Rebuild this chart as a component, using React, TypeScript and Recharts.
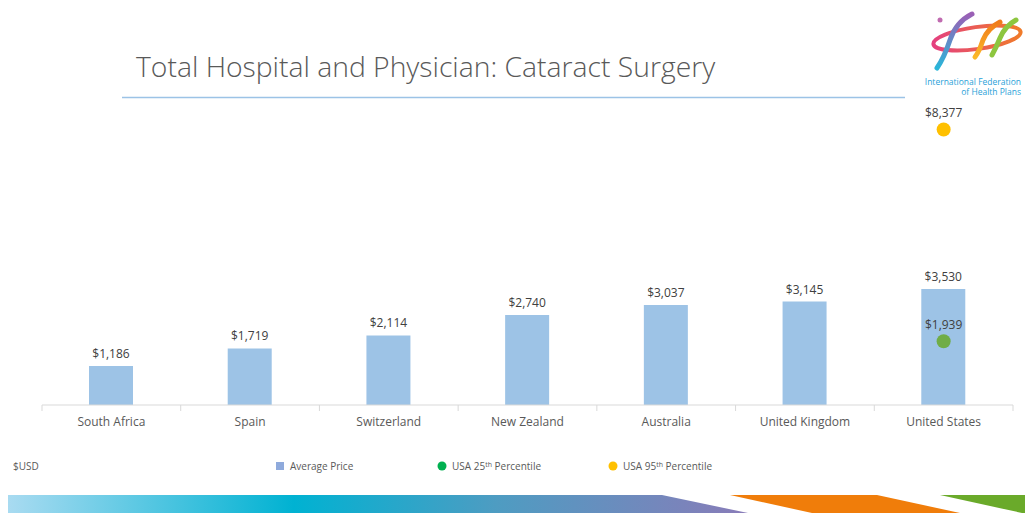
import { Bar, ComposedChart, LabelList, Line, XAxis, YAxis } from "recharts";

const categories = [
  "South Africa",
  "Spain",
  "Switzerland",
  "New Zealand",
  "Australia",
  "United Kingdom",
  "United States",
];
const averagePrice = [1186, 1719, 2114, 2740, 3037, 3145, 3530];
const usa25th = [null, null, null, null, null, null, 1939];
const usa95th = [null, null, null, null, null, null, 8377];

const data = categories.map((name, i) => ({
  name,
  avg: averagePrice[i],
  p25: usa25th[i],
  p95: usa95th[i],
}));

const W = 1025;
const H = 513;
const margin = { top: 109, right: 12, left: 42, bottom: 78 };
const band = (W - margin.left - margin.right) / categories.length;
const font = "'Open Sans', sans-serif";

const money = (v: unknown) =>
  v == null || v === "" ? "" : "$" + Number(v).toLocaleString("en-US");

function CategoryTick(props: any) {
  const { x, y, payload, index } = props;
  const last = index === categories.length - 1;
  return (
    <g>
      <line x1={x - band / 2} x2={x - band / 2} y1={y - 8} y2={y - 2} stroke="#d9d9d9" />
      {last && <line x1={x + band / 2} x2={x + band / 2} y1={y - 8} y2={y - 2} stroke="#d9d9d9" />}
      <text x={x} y={y + 13} textAnchor="middle" fontSize={12} fill="#595959" fontFamily={font}>
        {payload.value}
      </text>
    </g>
  );
}

const makeDot = (color: string) => (props: any) => {
  const { cx, cy, value, index } = props;
  if (value == null || cy == null) return <g key={"d" + index} />;
  return <circle key={"d" + index} cx={cx} cy={cy} r={7} fill={color} />;
};

function Logo() {
  return (
    <g>
      <defs>
        <linearGradient id="ring" x1="0" y1="0" x2="1" y2="0">
          <stop offset="0%" stopColor="#e4407f" />
          <stop offset="100%" stopColor="#f07b2a" />
        </linearGradient>
        <linearGradient id="rib1" x1="0" y1="0" x2="0" y2="1">
          <stop offset="0%" stopColor="#9b5fb5" />
          <stop offset="100%" stopColor="#29b6d9" />
        </linearGradient>
        <linearGradient id="rib2" x1="0" y1="0" x2="0" y2="1">
          <stop offset="0%" stopColor="#f07b1a" />
          <stop offset="100%" stopColor="#fbb829" />
        </linearGradient>
      </defs>
      <ellipse cx={977} cy={38} rx={44} ry={11} transform="rotate(-8 977 38)" fill="none" stroke="url(#ring)" strokeWidth={4} />
      <path d="M972 14 Q956 22 950 40 Q944 58 937 68" stroke="url(#rib1)" strokeWidth={5} fill="none" strokeLinecap="round" />
      <path d="M1000 22 Q988 28 983 40 Q979 52 975 57" stroke="url(#rib2)" strokeWidth={5} fill="none" strokeLinecap="round" />
      <path d="M1016 20 Q1005 26 1000 38 Q996 48 992 55" stroke="#8dc63f" strokeWidth={5} fill="none" strokeLinecap="round" />
      <circle cx={940} cy={20} r={2.5} fill="#c06bb0" />
      <text x={1021} y={85} textAnchor="end" fontSize={8.5} fill="#2a9fd8" fontFamily={font}>
        International Federation
      </text>
      <text x={1021} y={95} textAnchor="end" fontSize={8.5} fill="#2a9fd8" fontFamily={font}>
        of Health Plans
      </text>
    </g>
  );
}

function Banner() {
  return (
    <g>
      <defs>
        <linearGradient id="band" x1="8" y1="0" x2="760" y2="0" gradientUnits="userSpaceOnUse">
          <stop offset="0%" stopColor="#a9dbf1" />
          <stop offset="38%" stopColor="#00b2d2" />
          <stop offset="65%" stopColor="#4e9cc2" />
          <stop offset="100%" stopColor="#8c7ab8" />
        </linearGradient>
      </defs>
      <polygon points="8,495 662,495 748,513 8,513" fill="url(#band)" />
      <polygon points="730,495 877,495 960,513 812,513" fill="#f07d0a" />
      <polygon points="940,495 1025,495 1025,513 1022,513" fill="#6aaa2a" />
    </g>
  );
}

function Legend() {
  return (
    <g fontFamily={font} fontSize={10} fill="#595959">
      <text x={13} y={470}>$USD</text>
      <rect x={276} y={462} width={8} height={8} fill="#8faadc" />
      <text x={290} y={470}>Average Price</text>
      <circle cx={442} cy={466} r={4.5} fill="#00b050" />
      <text x={452} y={470}>
        USA 25<tspan fontSize={7} dy={-3}>th</tspan>
        <tspan dy={3}> Percentile</tspan>
      </text>
      <circle cx={613} cy={466} r={4.5} fill="#ffc000" />
      <text x={623} y={470}>
        USA 95<tspan fontSize={7} dy={-3}>th</tspan>
        <tspan dy={3}> Percentile</tspan>
      </text>
    </g>
  );
}

export default function App() {
  return (
    <div style={{ position: "absolute", left: 0, top: 0, width: W, height: H, background: "#fff" }}>
      <svg width={W} height={H} style={{ position: "absolute", left: 0, top: 0 }}>
        <text x={136} y={77} fontSize={28.3} fontWeight={300} fill="#595959" fontFamily={font}>
          Total Hospital and Physician: Cataract Surgery
        </text>
        <line x1={122} x2={905} y1={97.5} y2={97.5} stroke="#9cc3e6" strokeWidth={1.5} />
        <Logo />
        <Legend />
        <Banner />
      </svg>
      <div style={{ position: "absolute", left: 0, top: 0 }}>
        <ComposedChart width={W} height={H} data={data} margin={margin}>
          <XAxis
            dataKey="name"
            height={30}
            axisLine={{ stroke: "#d9d9d9" }}
            tickLine={false}
            tick={<CategoryTick />}
            interval={0}
          />
          <YAxis hide domain={[0, 9000]} />
          <Bar dataKey="avg" fill="#9dc3e6" barSize={44} isAnimationActive={false}>
            <LabelList dataKey="avg" position="top" offset={8} formatter={money} fontSize={12} fill="#404040" fontFamily={font} />
          </Bar>
          <Line dataKey="p25" stroke="none" dot={makeDot("#70ad47")} activeDot={false} isAnimationActive={false}>
            <LabelList dataKey="p25" position="top" offset={12} formatter={money} fontSize={12} fill="#404040" fontFamily={font} />
          </Line>
          <Line dataKey="p95" stroke="none" dot={makeDot("#ffc000")} activeDot={false} isAnimationActive={false}>
            <LabelList dataKey="p95" position="top" offset={12} formatter={money} fontSize={12} fill="#404040" fontFamily={font} />
          </Line>
        </ComposedChart>
      </div>
    </div>
  );
}
